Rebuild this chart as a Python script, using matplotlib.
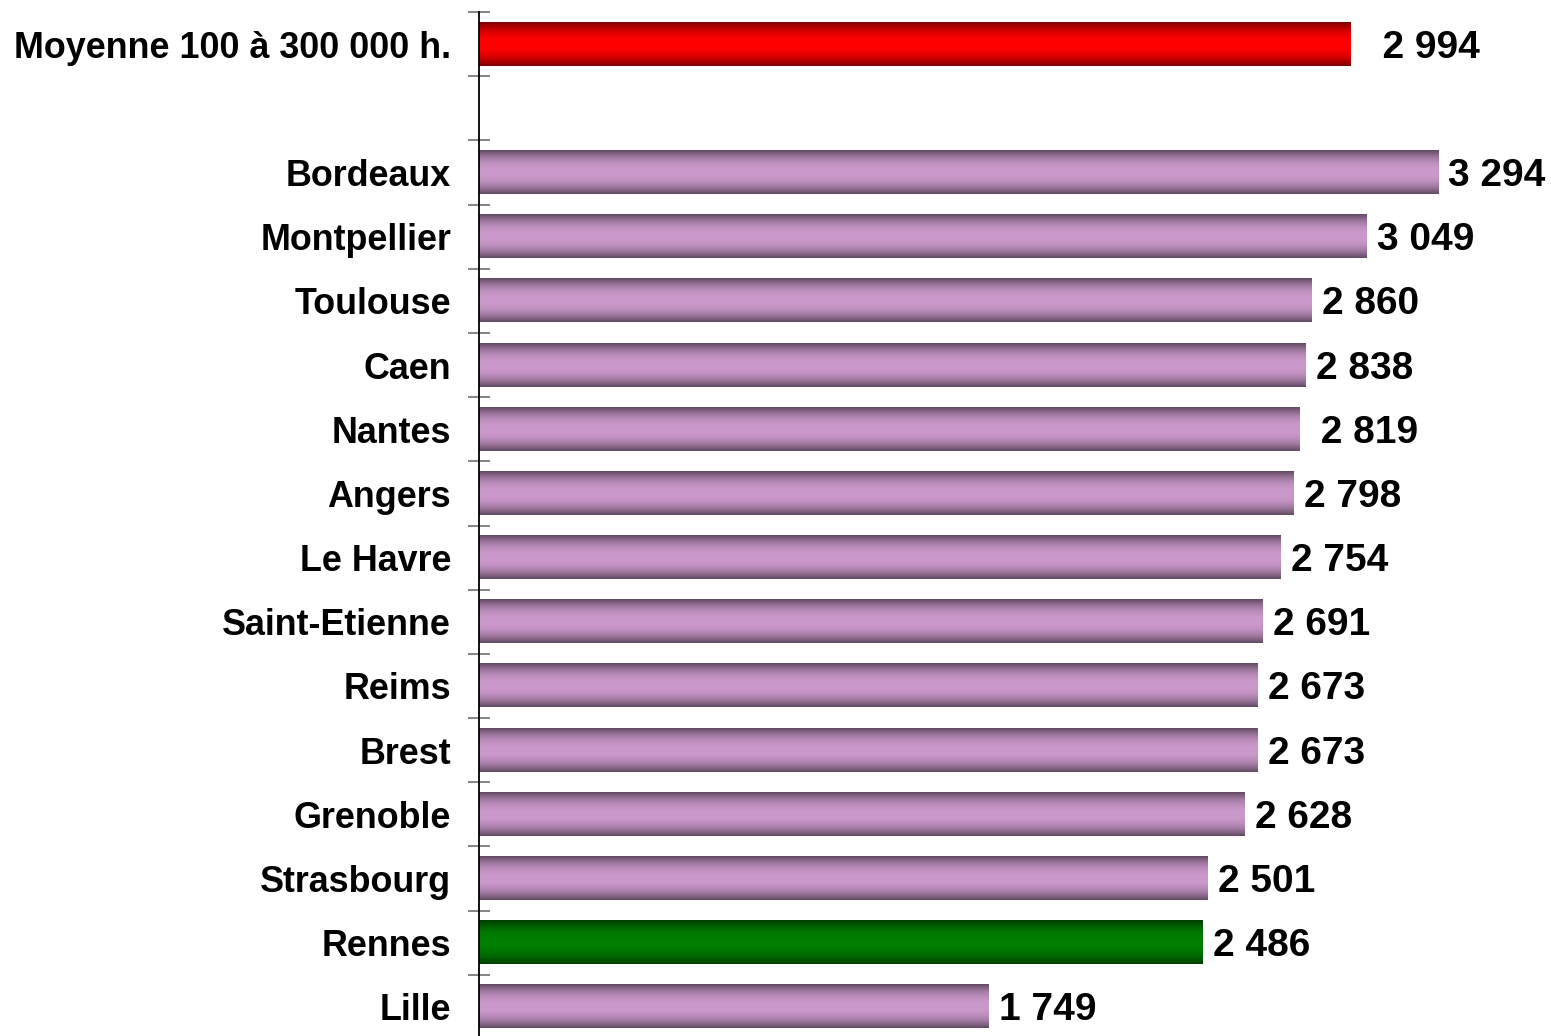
import numpy as np
import matplotlib
matplotlib.use("Agg")
import matplotlib.pyplot as plt
from matplotlib.colors import to_rgb

# ---- data ----
avg_label = "Moyenne 100 à 300 000 h."
avg_value = 2994
cities = ["Bordeaux", "Montpellier", "Toulouse", "Caen", "Nantes", "Angers",
          "Le Havre", "Saint-Etienne", "Reims", "Brest", "Grenoble",
          "Strasbourg", "Rennes", "Lille"]
city_values = [3294, 3049, 2860, 2838, 2819, 2798, 2754, 2691, 2673, 2673,
               2628, 2501, 2486, 1749]
highlight_city = "Rennes"
leading_spaces = {"Moyenne 100 à 300 000 h.": 2, "Nantes": 1}

col_avg = "#FF0000"
col_city = "#CC99CC"
col_high = "#008000"

# ---- assemble ----
labels = [avg_label, ""] + cities
values = [avg_value, None] + city_values
colors = [col_avg, None] + [col_high if c == highlight_city else col_city for c in cities]
pos = np.arange(len(labels))

plt.rcParams['font.family'] = ['Liberation Sans', 'DejaVu Sans']

W, H = 1551, 1036
fig = plt.figure(figsize=(W / 100, H / 100), dpi=100)
left = 479 / W
top_px, bot_px = 12, 1039
ax = fig.add_axes([left, 1 - bot_px / H, 1 - left, (bot_px - top_px) / H])

xmax = (W - 479) / (959 / 3294)

bh = 0.67
t = np.linspace(0, 1, 256)
prof = 0.47 + 0.53 * (1 - np.abs(2 * t - 1) ** 2.2)

for p, v, c, lab in zip(pos, values, colors, labels):
    if v is None:
        continue
    rgb = np.array(to_rgb(c))
    img = (prof[:, None, None] * rgb[None, None, :])
    img = np.repeat(img, 2, axis=1)
    ax.imshow(img, extent=[0, v, p + bh / 2, p - bh / 2], aspect='auto',
              interpolation='bilinear', zorder=2)
    txt = " " * leading_spaces.get(lab, 0) + f"{v:,}".replace(",", " ")
    ax.annotate(txt, xy=(v, p), xytext=(7.5, -2.5), textcoords='offset points',
                ha='left', va='center', fontsize=28, fontweight='bold',
                color='black', annotation_clip=False)

ax.set_xlim(0, xmax)
ax.set_ylim(len(labels) - 0.5, -0.5)

ax.set_yticks(pos)
ax.set_yticklabels(labels, fontsize=25.8, fontweight='bold')
ax.tick_params(axis='y', which='major', length=0, pad=20)
ax.set_yticks(np.arange(len(labels) + 1) - 0.5, minor=True)
ax.tick_params(axis='y', which='minor', direction='inout', length=16.5,
               width=1.2, color='#707070')
ax.set_xticks([])
for s in ['top', 'right', 'bottom']:
    ax.spines[s].set_visible(False)
ax.spines['left'].set_color('black')
ax.spines['left'].set_linewidth(1.3)
ax.set_facecolor('none')

fig.savefig("out.png", dpi=100)
